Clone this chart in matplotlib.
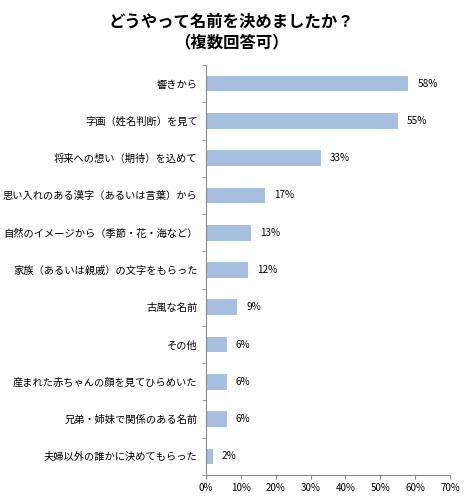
import matplotlib
matplotlib.use("Agg")
import matplotlib.pyplot as plt
import numpy as np

plt.rcParams['font.family'] = ['Noto Sans CJK JP', 'DejaVu Sans']

title = "どうやって名前を決めましたか？\n（複数回答可）"
categories = [
    "響きから",
    "字画（姓名判断）を見て",
    "将来への想い（期待）を込めて",
    "思い入れのある漢字（あるいは言葉）から",
    "自然のイメージから（季節・花・海など）",
    "家族（あるいは親戚）の文字をもらった",
    "古風な名前",
    "その他",
    "産まれた赤ちゃんの顔を見てひらめいた",
    "兄弟・姉妹で関係のある名前",
    "夫婦以外の誰かに決めてもらった",
]
values = [58, 55, 33, 17, 13, 12, 9, 6, 6, 6, 2]
xticks = [0, 10, 20, 30, 40, 50, 60, 70]

fig = plt.figure(figsize=(4.68, 5.01), dpi=100)
ax = fig.add_axes([206/468, 1-475/501, 244/468, 410/501])

n = len(categories)
y = np.arange(n)
ax.barh(y, values, height=0.42, color='#A7BFDE', edgecolor='none')
ax.set_ylim(n - 0.5, -0.5)
ax.set_xlim(0, 70)

for yi, v in zip(y, values):
    ax.text(v + 2.6, yi, f"{v}%", va='center', ha='left', fontsize=7.2, color='black')

ax.set_yticks(y)
ax.set_yticklabels(categories, fontsize=7.4)
ax.tick_params(axis='y', length=0, pad=6)
ax.set_yticks(np.arange(-0.5, n, 1), minor=True)
ax.tick_params(axis='y', which='minor', length=3, color='#888888')

ax.set_xticks(xticks)
ax.set_xticklabels([f"{t}%" for t in xticks], fontsize=7)
ax.tick_params(axis='x', length=3, color='#888888', pad=3)

for s in ['top', 'right']:
    ax.spines[s].set_visible(False)
for s in ['left', 'bottom']:
    ax.spines[s].set_color('#888888')
    ax.spines[s].set_linewidth(0.8)

fig.text(0.494, 1 - 32/501, title, ha='center', va='center', fontsize=11.8,
         fontweight='bold', linespacing=1.2)

fig.savefig("out.png", dpi=100)
